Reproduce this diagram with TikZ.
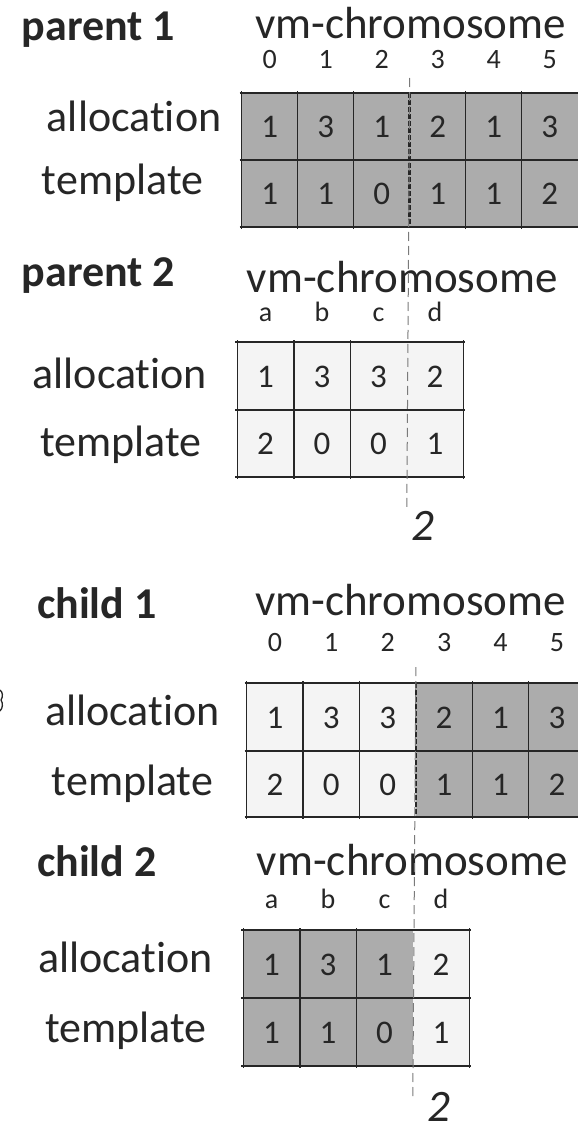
\documentclass[tikz,border=0pt]{standalone}
\usepackage{fontspec}
\setmainfont{Carlito}[Ligatures=NoCommon]
\definecolor{ink}{HTML}{262626}
\definecolor{darkcell}{HTML}{ACACAC}
\definecolor{lightcell}{HTML}{F4F4F4}
\definecolor{cutgray}{HTML}{7A7A7A}
\tikzset{
  ptitle/.style={anchor=base west, inner sep=0pt, text=ink, font=\fontsize{44}{44}\selectfont\bfseries},
  ctitle/.style={anchor=base west, inner sep=0pt, text=ink, font=\fontsize{44}{44}\selectfont\bfseries},
  biglab/.style={anchor=base west, inner sep=0pt, text=ink, font=\fontsize{44}{44}\selectfont},
  vmlab/.style={anchor=base west, inner sep=0pt, text=ink, font=\fontsize{45}{45}\selectfont},
  idx/.style={anchor=base, inner sep=0pt, text=ink, font=\fontsize{28}{28}\selectfont},
  num/.style={anchor=base, inner sep=0pt, text=ink, font=\fontsize{33}{33}\selectfont},
  cutnum/.style={anchor=base west, inner sep=0pt, text=ink, font=\fontsize{45}{45}\selectfont\itshape},
  gridline/.style={draw=ink, line width=1.5pt},
  cutline/.style={draw=cutgray, line width=1pt, dash pattern=on 9pt off 5pt},
  cutheavy/.style={draw=ink, line width=2.6pt, dash pattern=on 5pt off 2pt},
}
\begin{document}
\begin{tikzpicture}[x=1pt,y=-1pt]
\useasboundingbox (0,0) rectangle (578,1127);

% ---------- fills ----------
\fill[darkcell] (241.7,93) rectangle (580,227);
\fill[lightcell] (237.3,342) rectangle (463.3,477);
\fill[lightcell] (246.7,683) rectangle (415.9,817);
\fill[darkcell] (415.9,683) rectangle (580,817);
\fill[darkcell] (243.3,930) rectangle (412.8,1066);
\fill[lightcell] (412.8,930) rectangle (469.3,1066);

% ---------- grids ----------
% parent 1
\foreach \i in {0,1,2,4,5}
  \draw[gridline] ({241.7+\i*56},91) -- ({241.7+\i*56},229);
\foreach \y in {93,160,227}
  \draw[gridline] (239.7,\y) -- (580,\y);
\draw[cutheavy] (409.7,93) -- (409.7,227);
% parent 2
\foreach \i in {0,1,2,4}
  \draw[gridline] ({237.3+\i*56.5},340) -- ({237.3+\i*56.5},479);
\foreach \y in {342,410,477}
  \draw[gridline] (235.3,\y) -- (465.3,\y);
% child 1
\foreach \i in {0,1,2,4,5}
  \draw[gridline] ({246.7+\i*56.4},681) -- ({246.7+\i*56.4},819);
\foreach \y in {683,751,817}
  \draw[gridline] (244.7,\y) -- (580,\y);
\draw[cutheavy] (415.9,683) -- (415.9,817);
% child 2
\foreach \i in {0,1,2,4}
  \draw[gridline] ({243.3+\i*56.5},928) -- ({243.3+\i*56.5},1068);
\foreach \y in {930,998,1066}
  \draw[gridline] (241.3,\y) -- (471.3,\y);

% ---------- parent 1 ----------
\node[ptitle] (p1title) at (21.7,40) {parent 1};
\node[vmlab] (p1vm) at (255,38) {vm-chromosome};
\foreach \v [count=\i from 0] in {0,1,2,3,4,5}
  \node[idx] (p1i\i) at ({241.7+(\i+0.5)*56},68) {\v};
\node[biglab] (p1alab) at (46.7,131.7) {allocation};
\node[biglab] (p1tlab) at (41.7,194) {template};
\foreach \v [count=\i from 0] in {1,3,1,2,1,3}
  \node[num] (p1a\i) at ({241.7+(\i+0.5)*56},137.5) {\v};
\foreach \v [count=\i from 0] in {1,1,0,1,1,2}
  \node[num] (p1t\i) at ({241.7+(\i+0.5)*56},204.5) {\v};

% ---------- parent 2 ----------
\node[ptitle] (p2title) at (21.7,286) {parent 2};
\node[vmlab] (p2vm) at (246.7,292) {vm-chromosome};
\foreach \v [count=\i from 0] in {a,b,c,d}
  \node[idx] (p2i\i) at ({237.3+(\i+0.5)*56.5},321) {\v};
\node[biglab] (p2alab) at (32.4,388.3) {allocation};
\node[biglab] (p2tlab) at (39.8,456.7) {template};
\foreach \v [count=\i from 0] in {1,3,3,2}
  \node[num] (p2a\i) at ({237.3+(\i+0.5)*56.5},387.5) {\v};
\foreach \v [count=\i from 0] in {2,0,0,1}
  \node[num] (p2t\i) at ({237.3+(\i+0.5)*56.5},454.5) {\v};

% ---------- child 1 ----------
\node[ctitle] (c1title) at (36.9,618) {child 1};
\node[vmlab] (c1vm) at (255,615) {vm-chromosome};
\foreach \v [count=\i from 0] in {0,1,2,3,4,5}
  \node[idx] (c1i\i) at ({246.7+(\i+0.5)*56.4},651.7) {\v};
\node[biglab] (c1alab) at (45,725) {allocation};
\node[biglab] (c1tlab) at (51.6,795) {template};
\foreach \v [count=\i from 0] in {1,3,3,2,1,3}
  \node[num] (c1a\i) at ({246.7+(\i+0.5)*56.4},728) {\v};
\foreach \v [count=\i from 0] in {2,0,0,1,1,2}
  \node[num] (c1t\i) at ({246.7+(\i+0.5)*56.4},795) {\v};

% ---------- child 2 ----------
\node[ctitle] (c2title) at (36.9,876) {child 2};
\node[vmlab] (c2vm) at (256.7,875) {vm-chromosome};
\foreach \v [count=\i from 0] in {a,b,c,d}
  \node[idx] (c2i\i) at ({243.3+(\i+0.5)*56.5},908) {\v};
\node[biglab] (c2alab) at (38,972.7) {allocation};
\node[biglab] (c2tlab) at (45,1042.7) {template};
\foreach \v [count=\i from 0] in {1,3,1,2}
  \node[num] (c2a\i) at ({243.3+(\i+0.5)*56.5},975.5) {\v};
\foreach \v [count=\i from 0] in {1,1,0,1}
  \node[num] (c2t\i) at ({243.3+(\i+0.5)*56.5},1043.5) {\v};

% ---------- cut points ----------
\coordinate (pcutTop) at (409.7,78);
\coordinate (pcutBot) at (406.8,510);
\coordinate (ccutTop) at (415.9,667);
\coordinate (ccutBot) at (412.8,1098);
\draw[cutline] (pcutTop) -- (pcutBot);
\draw[cutline] (ccutTop) -- (ccutBot);
\node[cutnum] (pcut) at (411.5,540) {2};
\node[cutnum] (ccut) at (427,1121) {2};

% stray mark at left edge
\draw[ink, line width=1.3pt] (0,690) .. controls (3,692) and (3,697) .. (1,700)
  .. controls (3,703) and (3,708) .. (0,711);
\end{tikzpicture}
\end{document}
